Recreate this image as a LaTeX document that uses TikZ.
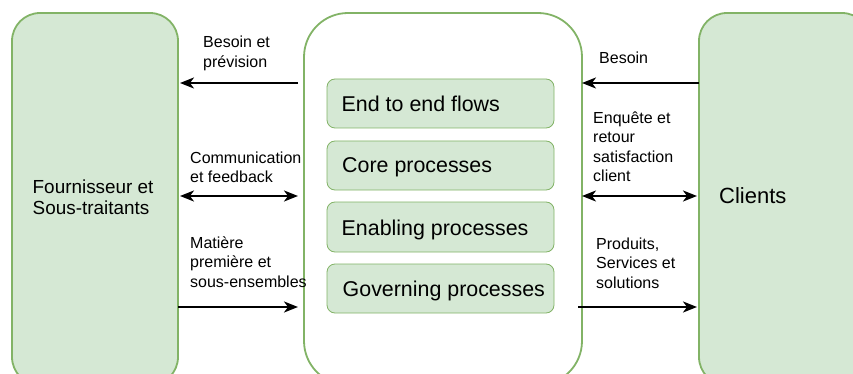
\documentclass[tikz,border=0pt]{standalone}
\usepackage{fontspec}
\setmainfont{Liberation Sans}
\usetikzlibrary{arrows.meta}
\definecolor{gfill}{HTML}{D5E8D4}
\definecolor{gline}{HTML}{82B366}
\tikzset{
  bigbox/.style={draw=gline, line width=1.8pt, fill=gfill},
  procbox/.style={draw=gline, line width=0.8pt, fill=gfill, rounded corners=8pt},
  proctext/.style={anchor=base west, inner sep=0pt, font=\fontsize{21.4}{25}\selectfont},
  lbl/.style={anchor=north west, inner sep=0pt, align=left, font=\fontsize{16}{19.5}\selectfont},
  tip/.tip={Stealth[length=14pt,width=11pt,inset=4pt]},
  flow/.style={line width=1.8pt, -tip},
  dflow/.style={line width=1.8pt, tip-tip},
}
\begin{document}
\begin{tikzpicture}[x=1pt,y=-1pt]
\useasboundingbox (0,0) rectangle (853,374);
\clip (0,0) rectangle (853,374);
% big boxes
\draw[bigbox, rounded corners=28pt] (12,13) rectangle (178,385);
\draw[bigbox, rounded corners=44pt, fill=white] (304,13) rectangle (582,385);
\draw[bigbox, rounded corners=28pt] (699,13) rectangle (870,385);
% process boxes
\draw[procbox] (327,79) rectangle (554,128);
\draw[procbox] (327,141) rectangle (554,190);
\draw[procbox] (327,202) rectangle (554,252);
\draw[procbox] (327,264) rectangle (554,313);
\node[proctext] (p1) at (341.5,112) {End to end flows};
\node[proctext] (p2) at (342,173) {Core processes};
\node[proctext] (p3) at (341.5,235) {Enabling processes};
\node[proctext] (p4) at (342.5,296) {Governing processes};
% big labels
\node[anchor=north west, inner sep=0pt, align=left, font=\fontsize{18.9}{20.5}\selectfont] (four) at (32.5,180) {Fournisseur et\\Sous-traitants};
\node[anchor=base west, inner sep=0pt, font=\fontsize{22}{26}\selectfont] (cli) at (719,204) {Clients};
% arrows left
\coordinate (a1s) at (298,83); \coordinate (a1e) at (180,83);
\draw[flow] (a1s) -- (a1e);
\coordinate (a2s) at (180,196); \coordinate (a2e) at (298,196);
\draw[dflow] (a2s) -- (a2e);
\coordinate (a3s) at (178,307); \coordinate (a3e) at (298,307);
\draw[flow] (a3s) -- (a3e);
% arrows right
\coordinate (b1s) at (699,83); \coordinate (b1e) at (582,83);
\draw[flow] (b1s) -- (b1e);
\coordinate (b2s) at (582,196); \coordinate (b2e) at (697,196);
\draw[dflow] (b2s) -- (b2e);
\coordinate (b3s) at (578,307); \coordinate (b3e) at (697,307);
\draw[flow] (b3s) -- (b3e);
% labels
\node[lbl] (l1) at (203,36) {Besoin et\\prévision};
\node[lbl] (l2) at (190,151.5) {Communication\\et feedback};
\node[lbl] (l3) at (190,236.5) {Matière\\première et\\sous-ensembles};
\node[lbl] (r1) at (599,51.5) {Besoin};
\node[lbl] (r2) at (593,111.5) {Enquête et\\retour\\satisfaction\\client};
\node[lbl] (r3) at (596,237.5) {Produits,\\Services et\\solutions};
\end{tikzpicture}
\end{document}
